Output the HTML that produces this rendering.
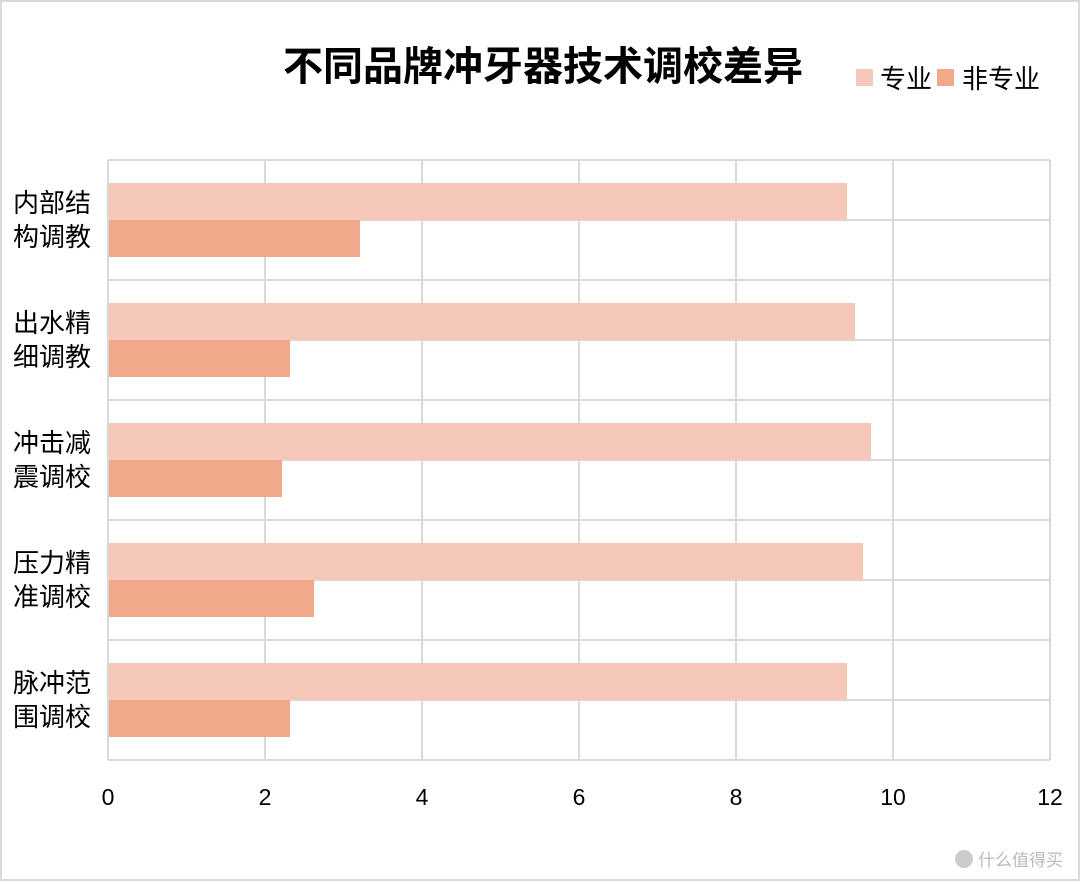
<!DOCTYPE html>
<html><head><meta charset="utf-8"><style>
html,body{margin:0;padding:0;background:#fff}
</style></head><body>
<svg width="1080" height="881" xmlns="http://www.w3.org/2000/svg" font-family="Liberation Sans, Noto Sans CJK SC, sans-serif">
<rect x="1" y="1" width="1078" height="879" fill="#fff" stroke="#d9d9d9" stroke-width="2"/>
<text x="543" y="80" text-anchor="middle" font-size="40" font-weight="bold" fill="#000">不同品牌冲牙器技术调校差异</text>
<rect x="856" y="69" width="17" height="17" fill="#F5C8B9"/>
<text x="880" y="88" font-size="26" fill="#000">专业</text>
<rect x="937" y="69" width="17" height="17" fill="#F2A98B"/>
<text x="962" y="88" font-size="26" fill="#000">非专业</text>
<g stroke="#d9d9d9" stroke-width="2">
<line x1="108" y1="160" x2="1050" y2="160"/><line x1="108" y1="220" x2="1050" y2="220"/>
<line x1="108" y1="280" x2="1050" y2="280"/><line x1="108" y1="340" x2="1050" y2="340"/>
<line x1="108" y1="400" x2="1050" y2="400"/><line x1="108" y1="460" x2="1050" y2="460"/>
<line x1="108" y1="520" x2="1050" y2="520"/><line x1="108" y1="580" x2="1050" y2="580"/>
<line x1="108" y1="640" x2="1050" y2="640"/><line x1="108" y1="700" x2="1050" y2="700"/>
<line x1="108" y1="760" x2="1050" y2="760"/>
<line x1="108" y1="160" x2="108" y2="760"/><line x1="265" y1="160" x2="265" y2="760"/>
<line x1="422" y1="160" x2="422" y2="760"/><line x1="579" y1="160" x2="579" y2="760"/>
<line x1="736" y1="160" x2="736" y2="760"/><line x1="893" y1="160" x2="893" y2="760"/>
<line x1="1050" y1="160" x2="1050" y2="760"/>
</g>
<g>
<rect x="109" y="183" width="738" height="37" fill="#F5C8B9"/><rect x="109" y="220" width="251" height="37" fill="#F2A98B"/>
<rect x="109" y="303" width="746" height="37" fill="#F5C8B9"/><rect x="109" y="340" width="181" height="37" fill="#F2A98B"/>
<rect x="109" y="423" width="762" height="37" fill="#F5C8B9"/><rect x="109" y="460" width="173" height="37" fill="#F2A98B"/>
<rect x="109" y="543" width="754" height="37" fill="#F5C8B9"/><rect x="109" y="580" width="205" height="37" fill="#F2A98B"/>
<rect x="109" y="663" width="738" height="37" fill="#F5C8B9"/><rect x="109" y="700" width="181" height="37" fill="#F2A98B"/>
</g>
<g font-size="26" fill="#000">
<text x="13" y="212">内部结</text><text x="13" y="246">构调教</text>
<text x="13" y="332">出水精</text><text x="13" y="366">细调教</text>
<text x="13" y="452">冲击减</text><text x="13" y="486">震调校</text>
<text x="13" y="572">压力精</text><text x="13" y="606">准调校</text>
<text x="13" y="692">脉冲范</text><text x="13" y="726">围调校</text>
</g>
<g font-size="23" fill="#000" text-anchor="middle">
<text x="108" y="805">0</text><text x="265" y="805">2</text><text x="422" y="805">4</text>
<text x="579" y="805">6</text><text x="736" y="805">8</text><text x="893" y="805">10</text><text x="1050" y="805">12</text>
</g>
<circle cx="964" cy="859" r="9" fill="#ccc"/>
<text x="978" y="866" font-size="17" fill="#bbb">什么值得买</text>
</svg>
</body></html>
